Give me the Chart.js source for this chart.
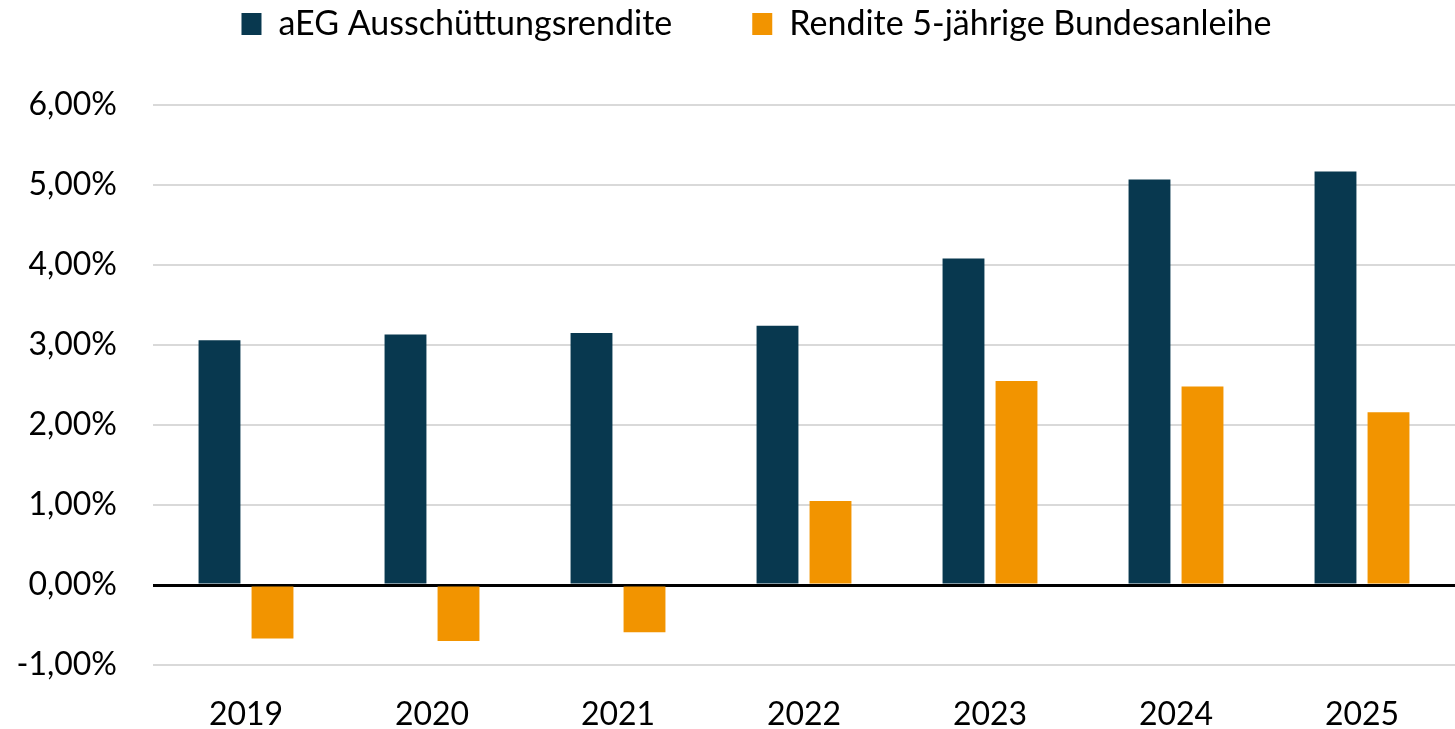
<!DOCTYPE html>
<html>
<head>
<meta charset="utf-8">
<script src="https://cdn.jsdelivr.net/npm/chart.js@4/dist/chart.umd.min.js"></script>
<style>
  body { margin:0; background:#fff; }
  #wrap { width:1455px; height:729px; }
</style>
</head>
<body>
<div id="wrap"><canvas id="yieldChart" width="1455" height="729"></canvas></div>
<script>
/* ------------------ Data ------------------ */
const years = ["2019","2020","2021","2022","2023","2024","2025"];
const aegYield = [3.06, 3.13, 3.15, 3.24, 4.08, 5.07, 5.17];
const bundYield = [-0.67, -0.70, -0.59, 1.05, 2.55, 2.48, 2.16];
const seriesNames = ["aEG Ausschüttungsrendite", "Rendite 5-jährige Bundesanleihe"];

const fontFamily = "Lato, 'Open Sans', sans-serif";

/* ------------------ Legend spacing ------------------ */
// big label padding gives the gap between the two items; the legend box
// gets a fixed height and is moved up after layout
const legendSpacer = {
  id: 'legendSpacer',
  beforeInit(chart) {
    const fit = chart.legend.fit;
    chart.legend.fit = function () {
      fit.call(this);
      this.height = 105;
    };
  },
  afterLayout(chart) {
    const lg = chart.legend;
    lg.top = -73;
    lg.left += 29;
    lg.right += 29;
  }
};

/* ------------------ Chart ------------------ */
const ctx = document.getElementById('yieldChart').getContext('2d');
const yieldChart = new Chart(ctx, {
  type: 'bar',
  data: {
    labels: years,
    datasets: [
      { label: seriesNames[0], data: aegYield, backgroundColor: "#08384f", categoryPercentage: 0.57, barPercentage: 0.79 },
      { label: seriesNames[1], data: bundYield, backgroundColor: "#f29400", categoryPercentage: 0.57, barPercentage: 0.79 }
    ]
  },
  options: {
    responsive: false,
    animation: false,
    layout: { padding: 0 },
    plugins: {
      legend: {
        position: "top",
        labels: { color: "#000", boxWidth: 20, boxHeight: 22, padding: 80, font: { family: fontFamily, size: 34 } }
      },
      tooltip: { enabled: false }
    },
    scales: {
      x: {
        grid: { display: false, drawTicks: false },
        border: { display: false },
        ticks: { color: "#000", padding: 30, font: { family: fontFamily, size: 32 } },
        afterFit: s => { s.height = 64; }
      },
      y: {
        min: -1, max: 6,
        border: { display: false },
        grid: {
          drawTicks: false,
          color: c => c.tick && c.tick.value === 0 ? "#000" : "#d9d9d9",
          lineWidth: c => c.tick && c.tick.value === 0 ? 3 : 2
        },
        ticks: {
          stepSize: 1, color: "#000", padding: 36,
          font: { family: fontFamily, size: 32 },
          callback: v => v.toFixed(2).replace(".", ",") + "%"
        },
        afterFit: s => { s.width = 153; }
      }
    }
  },
  plugins: [legendSpacer]
});
</script>
</body>
</html>
